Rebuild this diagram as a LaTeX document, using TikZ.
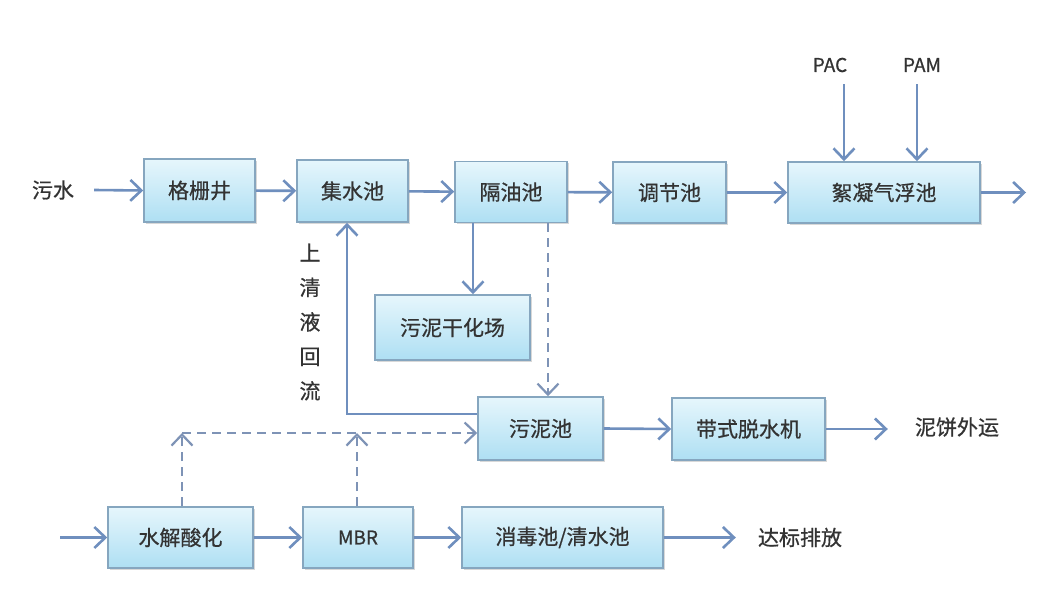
\documentclass[tikz,border=0pt]{standalone}
\usepackage{fontspec}
\setmainfont{Noto Sans CJK SC}
\newfontfamily\heavy{Noto Sans CJK SC}[FakeBold=0.7]
\usetikzlibrary{arrows.meta,shadows}
\definecolor{boxtop}{HTML}{E6F6FC}
\definecolor{boxbot}{HTML}{AEDFF3}
\definecolor{boxline}{HTML}{86A6BF}
\definecolor{arr}{HTML}{6F8FBE}
\definecolor{dash}{HTML}{7E93B6}
\definecolor{txt}{HTML}{333333}
\tikzset{
  proc/.style={draw=boxline, line width=1.6pt, top color=boxtop, bottom color=boxbot,
    text=txt, font=\heavy\fontsize{21}{21}\selectfont, inner sep=0pt,
    drop shadow={opacity=0.3, shadow xshift=1.5pt, shadow yshift=-1.8pt}},
  lbl/.style={text=txt, font=\heavy\fontsize{21}{21}\selectfont, inner sep=0pt},
  flow/.style={draw=arr, line width=2.6pt, -{Straight Barb[length=11pt,width=21pt]}},
  dflow/.style={draw=dash, line width=2.2pt, dash pattern=on 9pt off 6pt, -{Straight Barb[length=11pt,width=21pt]}},
  sline/.style={draw=arr, line width=2.6pt}
}
\begin{document}
\begin{tikzpicture}[x=1pt,y=-1pt]
\useasboundingbox[fill=white] (0,0) rectangle (1038,602);
% top row
\node[lbl] (ws) at (53,190) {污水};
\node[proc, minimum width=111pt, minimum height=63pt] (gs) at (199.5,190.5) {格栅井};
\node[proc, minimum width=111pt, minimum height=62pt] (jsc) at (352.5,191) {集水池};
\node[proc, minimum width=112pt, minimum height=61pt] (gyc) at (511,192) {隔油池};
\node[proc, minimum width=113pt, minimum height=61pt] (tjc) at (669.5,192.5) {调节池};
\node[proc, minimum width=192pt, minimum height=61pt] (xn) at (884,192.5) {絮凝气浮池};
\coordinate (out1) at (1026,192.5);
\node[lbl, font=\heavy\fontsize{19}{19}\selectfont] (pac) at (830,65) {PAC};
\node[lbl, font=\heavy\fontsize{19}{19}\selectfont] (pam) at (922,65) {PAM};
% middle
\node[proc, minimum width=155pt, minimum height=65pt] (ghc) at (452.5,327.5) {污泥干化场};
\node[proc, minimum width=125pt, minimum height=63pt] (wnc) at (540.5,428.5) {污泥池};
\node[proc, minimum width=153pt, minimum height=62pt] (tsj) at (748.5,429) {带式脱水机};
\node[lbl] (nb) at (957,427) {泥饼外运};
\node[lbl, align=center, font=\heavy\fontsize{21}{34.5}\selectfont] (sq) at (310,322) {上\\清\\液\\回\\流};
% bottom row
\coordinate (in2) at (60,537.5);
\node[proc, minimum width=145pt, minimum height=61pt] (sj) at (180.5,537.5) {水解酸化};
\node[proc, minimum width=110pt, minimum height=61pt, font=\heavy\fontsize{19}{19}\selectfont] (mbr) at (358,537.5) {MBR};
\node[proc, minimum width=201pt, minimum height=61pt] (xd) at (562.5,537.5) {消毒池/清水池};
\node[lbl] (db) at (800,537.5) {达标排放};
% connectors top row
\draw[flow] (ws.east) ++(20pt,0) coordinate (wsa) -- (gs.west);
\draw[flow] (gs) -- (jsc);
\draw[flow] (jsc) -- (gyc);
\draw[flow] (gyc) -- (tjc);
\draw[flow] (tjc) -- (xn);
\draw[flow] (xn) -- (out1);
\draw[flow] (pac.south -| 844,0) ++(0,-12pt) -- (xn.north -| 844,0);
\draw[flow] (pam.south -| 917,0) ++(0,-12pt) -- (xn.north -| 917,0);
% middle connectors
\draw[flow] (gyc.south -| 473,0) -- (ghc.north -| 473,0);
\draw[dflow] (gyc.south -| 548,0) -- (wnc.north -| 548,0);
\draw[flow] (wnc.west |- 0,414) -- (347,414) -- (jsc.south -| 347,0);
\draw[flow] (wnc.east) -- (tsj.west);
\draw[flow] (tsj.east) -- ++(62pt,0);
% bottom connectors
\draw[flow] (in2) -- (sj.west);
\draw[flow] (sj) -- (mbr);
\draw[flow] (mbr) -- (xd);
\draw[flow] (xd.east) -- ++(72pt,0);
\coordinate (c1) at (182,433);
\coordinate (c2) at (357,433);
\draw[dflow] (sj.north -| c1) -- (c1);
\draw[dflow] (mbr.north -| c2) -- (c2);
\draw[dflow] (c1) -- (wnc.west |- c1);
\end{tikzpicture}
\end{document}
